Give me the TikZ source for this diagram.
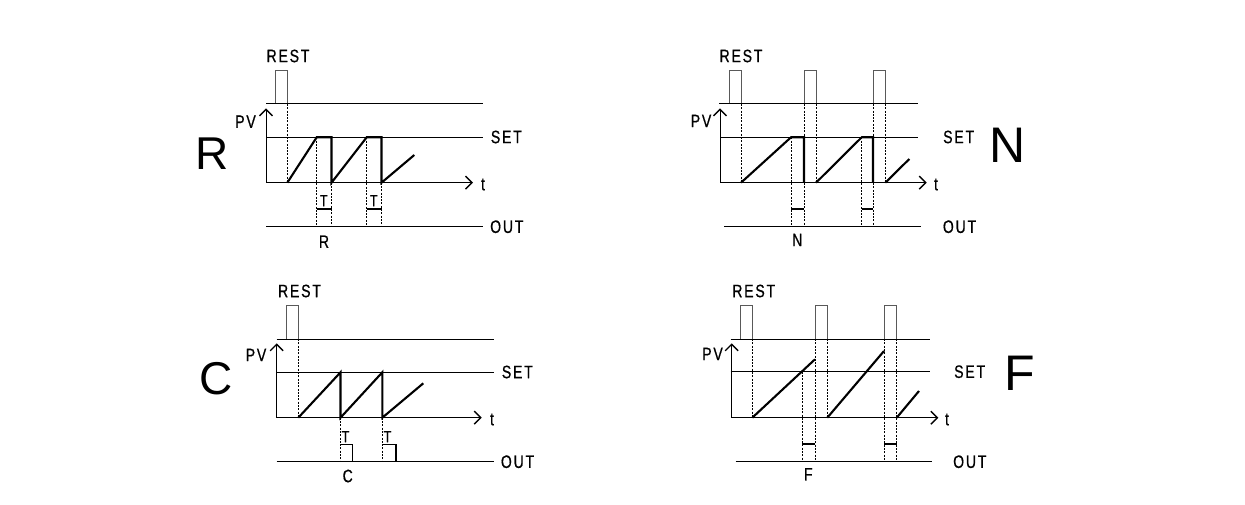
\documentclass[tikz,border=0pt]{standalone}
\usepackage{fontspec}
\usepackage{tikz}
\usetikzlibrary{arrows.meta}
\newfontfamily\lblfont[FakeStretch=0.78,LetterSpace=10,FakeBold=0.6]{Liberation Sans}
\newfontfamily\modefont{Liberation Sans}

\begin{document}
\begin{tikzpicture}[x=1pt,y=1pt,>={Straight Barb[length=6.5pt,width=13pt,line width=1.4pt]}]
\tikzset{
  axisline/.style={line width=1pt,black},
  pulse/.style={line width=1pt,black!65},
  signal/.style={line width=2.1pt,black,line join=miter},
  guide/.style={line width=0.75pt,black,dash pattern=on 2pt off 1.3pt},
  tag/.style={font=\lblfont\fontsize{18}{20}\selectfont,inner sep=0pt},
  small/.style={font=\lblfont\fontsize{16}{18}\selectfont,inner sep=0pt},
  mode/.style={font=\modefont\fontsize{46}{48}\selectfont,inner sep=0pt}
}
\useasboundingbox (0,0) rectangle (1245,504);

\node[tag] (restR) at (288,448) {REST};
\draw[pulse] (275.3,400)--(275.3,433.3)--(287.3,433.3)--(287.3,400);
\draw[axisline] (266,400)--(482.7,400);
\draw[axisline,->] (266,321.3)--(266,395.7);
\node[tag] (pvR) at (245.5,382.3) {PV};
\draw[axisline] (266,366.7)--(482.7,366.7);
\node[tag,anchor=west] (setR) at (490.7,367) {SET};
\draw[axisline,->] (266,321.3)--(473,321.3);
\node[tag] (tR) at (483,319.5) {t};
\draw[axisline] (266,277.3)--(482.7,277.3);
\node[tag,anchor=west] (outR) at (490,277.3) {OUT};
\draw[guide] (287.3,400)--(287.3,321.3);
\draw[guide] (316.7,366.7)--(316.7,277.3);
\draw[guide] (331.5,321.3)--(331.5,277.3);
\draw[guide] (366.7,366.7)--(366.7,277.3);
\draw[guide] (381.5,321.3)--(381.5,277.3);
\draw[signal] (287.3,321.3)--(316.7,366.7)--(331.5,366.7)--(331.5,321.3)--(366.7,366.7)--(381.5,366.7)--(381.5,321.3)--(414.3,349);
\draw[signal] (316.7,294.7)--(331.5,294.7);
\draw[signal] (366.7,294.7)--(381.5,294.7);
\node[small] (tauR1) at (323.8,303.3) {T};
\node[small] (tauR2) at (373.8,303.3) {T};
\node[tag] (labR) at (324,262.3) {R};
\node[mode] (modeR) at (212.5,350) {R};

\node[tag] (restN) at (741,448) {REST};
\draw[pulse] (729,400)--(729,433.3)--(741,433.3)--(741,400);
\draw[pulse] (804,400)--(804,433.3)--(816,433.3)--(816,400);
\draw[pulse] (873,400)--(873,433.3)--(885.3,433.3)--(885.3,400);
\draw[axisline] (719.3,400)--(917.7,400);
\draw[axisline,->] (720,321.3)--(720,395.7);
\node[tag] (pvN) at (701,383) {PV};
\draw[axisline] (720,366.7)--(917.7,366.7);
\node[tag,anchor=west] (setN) at (943,367) {SET};
\draw[axisline,->] (720,321.3)--(926.7,321.3);
\node[tag] (tN) at (936,319.5) {t};
\draw[axisline] (724.3,277.3)--(920.7,277.3);
\node[tag,anchor=west] (outN) at (942.7,277.3) {OUT};
\draw[guide] (741,400)--(741,321.3);
\draw[guide] (804,400)--(804,277.3);
\draw[guide] (816,400)--(816,321.3);
\draw[guide] (791,366.7)--(791,277.3);
\draw[guide] (873,400)--(873,277.3);
\draw[guide] (885.3,400)--(885.3,321.3);
\draw[guide] (861.7,366.7)--(861.7,277.3);
\draw[signal] (741,321.3)--(791,366.7)--(804,366.7)--(804,321.3);
\draw[signal] (816,321.3)--(861.7,366.7)--(873,366.7)--(873,321.3);
\draw[signal] (885.3,321.3)--(909.3,345);
\draw[signal] (791,294.7)--(804,294.7);
\draw[signal] (861.7,294.7)--(873,294.7);
\node[tag] (labN) at (797.3,264) {N};
\node[mode,font=\modefont\fontsize{50}{52}\selectfont] (modeN) at (1007.5,359) {N};

\node[tag] (restC) at (299.5,213) {REST};
\draw[pulse] (286,165)--(286,198.3)--(298.3,198.3)--(298.3,165);
\draw[axisline] (276.7,165)--(494,165);
\draw[axisline,->] (276.7,86.3)--(276.7,160.7);
\node[tag] (pvC) at (256,149) {PV};
\draw[axisline] (276.7,131.7)--(494,131.7);
\node[tag,anchor=west] (setC) at (501.7,132) {SET};
\draw[axisline,->] (276.7,86.3)--(481.7,86.3);
\node[tag] (tC) at (492,84.5) {t};
\draw[axisline] (276.7,42.3)--(494,42.3);
\node[tag,anchor=west] (outC) at (500.7,42.3) {OUT};
\draw[guide] (298.3,165)--(298.3,86.3);
\draw[guide] (340.5,86.3)--(340.5,42.3);
\draw[guide] (382.3,86.3)--(382.3,42.3);
\draw[signal] (298.3,86.3)--(340.5,131.7)--(340.5,86.3)--(382.3,131.7)--(382.3,86.3)--(423.3,120.7);
\draw[line width=1.3pt] (340.5,59.7)--(352.7,59.7)--(352.7,42.3);
\draw[line width=1.3pt] (382.3,59.7)--(396,59.7)--(396,42.3);
\node[small] (tauC1) at (345.5,67.3) {T};
\node[small] (tauC2) at (387.5,67.3) {T};
\node[tag] (labC) at (347.7,28) {C};
\node[mode] (modeC) at (215.7,125) {C};

\node[tag] (restF) at (753.7,213) {REST};
\draw[pulse] (740,165)--(740,198.3)--(752.3,198.3)--(752.3,165);
\draw[pulse] (815,165)--(815,198.3)--(827.3,198.3)--(827.3,165);
\draw[pulse] (884,165)--(884,198.3)--(896.7,198.3)--(896.7,165);
\draw[axisline] (730.7,165)--(930,165);
\draw[axisline,->] (731.7,86.3)--(731.7,160.7);
\node[tag] (pvF) at (712.5,150) {PV};
\draw[axisline] (730.7,132.3)--(930,132.3);
\node[tag,anchor=west] (setF) at (954,132.3) {SET};
\draw[axisline,->] (731.7,86.3)--(938.3,86.3);
\node[tag] (tF) at (947,84.5) {t};
\draw[axisline] (735.7,42.3)--(931.7,42.3);
\node[tag,anchor=west] (outF) at (953,42.3) {OUT};
\draw[guide] (752.3,165)--(752.3,86.3);
\draw[guide] (815,165)--(815,42.3);
\draw[guide] (827.3,165)--(827.3,86.3);
\draw[guide] (802.3,132.3)--(802.3,42.3);
\draw[guide] (884,165)--(884,42.3);
\draw[guide] (896.7,165)--(896.7,42.3);
\draw[signal] (752.3,86.3)--(815,144.7);
\draw[signal] (827.3,86.3)--(884,153);
\draw[signal] (896.7,86.3)--(919,113);
\draw[signal] (802.3,59.7)--(815,59.7);
\draw[signal] (884,59.7)--(896.7,59.7);
\node[tag] (labF) at (808.3,29.7) {F};
\node[mode,font=\modefont\fontsize{50}{52}\selectfont] (modeF) at (1020,131) {F};
\end{tikzpicture}
\end{document}
